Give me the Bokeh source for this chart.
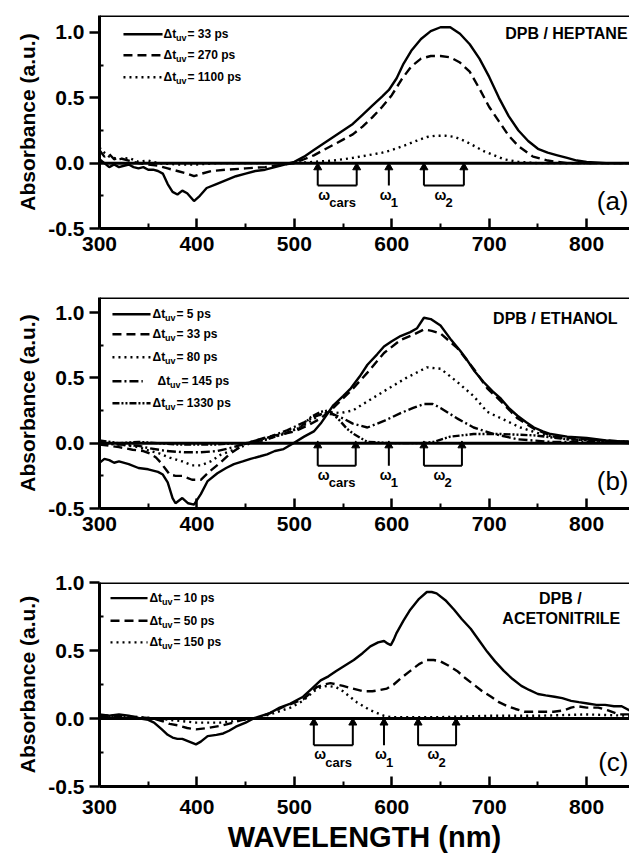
from bokeh.plotting import figure
from bokeh.layouts import column
from bokeh.models import FixedTicker, PrintfTickFormatter, Span, Range1d
from bokeh.core.properties import value
from bokeh.embed import file_html
from bokeh.resources import INLINE

FONT = "Liberation Sans"

# ---------------- data ----------------
# Panel (a) DPB / HEPTANE
a_solid_x = [300, 305, 310, 315, 320, 325, 330, 335, 340, 345, 350, 355, 360, 365, 370, 375, 380, 385, 390, 397, 403, 410, 420, 430, 440, 450, 460, 470, 480, 490, 500, 510, 520, 530, 540, 550, 560, 570, 580, 590, 597, 605, 612, 620, 630, 640, 650, 655, 660, 670, 680, 690, 700, 710, 720, 730, 740, 750, 760, 770, 780, 790, 800, 820, 844]
a_solid_y = [0.03, 0.0, -0.03, -0.01, -0.03, -0.02, -0.01, -0.03, -0.04, -0.03, -0.05, -0.05, -0.06, -0.08, -0.16, -0.22, -0.24, -0.21, -0.23, -0.29, -0.25, -0.19, -0.16, -0.13, -0.10, -0.08, -0.06, -0.05, -0.03, -0.01, 0.01, 0.05, 0.10, 0.15, 0.20, 0.25, 0.30, 0.37, 0.44, 0.51, 0.56, 0.65, 0.76, 0.86, 0.95, 1.01, 1.04, 1.04, 1.04, 0.99, 0.91, 0.80, 0.66, 0.50, 0.36, 0.25, 0.17, 0.11, 0.08, 0.06, 0.04, 0.02, 0.01, 0.0, 0.0]
a_dash_x = [300, 305, 310, 315, 320, 330, 340, 350, 360, 370, 380, 390, 397, 405, 415, 430, 450, 470, 490, 500, 510, 520, 530, 540, 550, 560, 570, 580, 590, 600, 610, 620, 630, 640, 650, 660, 670, 680, 690, 700, 710, 720, 730, 745, 760, 780, 800, 844]
a_dash_y = [0.10, 0.05, 0.07, 0.03, 0.04, 0.02, 0.0, -0.01, -0.02, -0.04, -0.06, -0.08, -0.10, -0.08, -0.06, -0.05, -0.04, -0.03, -0.01, 0.0, 0.03, 0.06, 0.10, 0.14, 0.18, 0.22, 0.28, 0.35, 0.43, 0.52, 0.64, 0.74, 0.80, 0.82, 0.82, 0.81, 0.77, 0.70, 0.57, 0.43, 0.32, 0.21, 0.13, 0.05, 0.02, 0.0, 0.0, 0.0]
a_dot_x = [300, 305, 310, 320, 330, 340, 350, 360, 380, 400, 420, 450, 480, 500, 520, 540, 560, 575, 590, 600, 615, 625, 636, 645, 655, 665, 675, 685, 695, 705, 715, 730, 750, 800, 844]
a_dot_y = [0.12, 0.08, 0.05, 0.03, 0.04, 0.01, 0.02, 0.0, -0.01, -0.01, 0.0, 0.0, 0.0, 0.0, 0.01, 0.02, 0.04, 0.06, 0.08, 0.10, 0.14, 0.17, 0.20, 0.21, 0.21, 0.20, 0.17, 0.13, 0.09, 0.06, 0.03, 0.01, 0.0, 0.0, 0.0]
a_labels = [" = 33 ps", " = 270 ps", " = 1100 ps"]

# Panel (b) DPB / ETHANOL
b_solid_x = [300, 305, 310, 315, 320, 330, 340, 350, 360, 365, 370, 375, 378, 385, 391, 397, 404, 411, 421, 430, 438, 447, 455, 465, 472, 480, 489, 499, 510, 520, 527, 540, 550, 558, 567, 575, 585, 592, 600, 609, 619, 626, 633, 640, 650, 660, 670, 677, 685, 694, 703, 712, 720, 729, 738, 746, 755, 763, 780, 800, 820, 844]
b_solid_y = [-0.15, -0.12, -0.13, -0.15, -0.14, -0.16, -0.19, -0.20, -0.22, -0.24, -0.30, -0.42, -0.46, -0.42, -0.46, -0.47, -0.39, -0.29, -0.23, -0.19, -0.16, -0.14, -0.12, -0.10, -0.085, -0.06, -0.045, 0.0, 0.05, 0.09, 0.15, 0.29, 0.36, 0.42, 0.51, 0.60, 0.68, 0.74, 0.78, 0.82, 0.85, 0.88, 0.96, 0.95, 0.90, 0.80, 0.71, 0.64, 0.55, 0.47, 0.40, 0.34, 0.27, 0.21, 0.16, 0.12, 0.09, 0.07, 0.05, 0.04, 0.02, 0.01]
b_dash_x = [300, 310, 320, 334, 345, 352, 358, 363, 368, 372, 378, 385, 395, 404, 414, 424, 434, 448, 460, 469, 480, 489, 500, 506, 515, 527, 540, 558, 575, 592, 609, 622, 633, 641, 650, 667, 684, 698, 712, 729, 746, 766, 797, 844]
b_dash_y = [-0.01, -0.02, -0.03, -0.05, -0.06, -0.08, -0.11, -0.15, -0.20, -0.24, -0.25, -0.25, -0.28, -0.28, -0.21, -0.15, -0.08, -0.01, 0.02, 0.04, 0.06, 0.07, 0.09, 0.11, 0.14, 0.19, 0.27, 0.40, 0.54, 0.69, 0.79, 0.83, 0.87, 0.86, 0.84, 0.73, 0.57, 0.42, 0.32, 0.19, 0.11, 0.05, 0.03, 0.01]
b_dot_x = [300, 320, 340, 352, 362, 372, 385, 395, 404, 414, 424, 438, 455, 472, 490, 506, 517, 527, 537, 547, 560, 575, 597, 615, 636, 650, 667, 684, 698, 715, 732, 753, 780, 844]
b_dot_y = [0.0, -0.01, -0.03, -0.06, -0.08, -0.11, -0.14, -0.17, -0.17, -0.14, -0.09, -0.05, 0.0, 0.03, 0.08, 0.12, 0.17, 0.22, 0.24, 0.23, 0.25, 0.32, 0.42, 0.50, 0.58, 0.57, 0.47, 0.36, 0.24, 0.18, 0.12, 0.07, 0.03, 0.01]
b_dd_x = [300, 320, 340, 352, 369, 387, 404, 421, 438, 455, 472, 493, 510, 520, 530, 540, 550, 560, 575, 592, 609, 622, 633, 642, 650, 667, 684, 705, 729, 763, 800, 844]
b_dd_y = [0.0, -0.01, -0.02, -0.04, -0.06, -0.07, -0.07, -0.06, -0.03, 0.01, 0.04, 0.10, 0.16, 0.20, 0.23, 0.22, 0.19, 0.15, 0.12, 0.17, 0.23, 0.27, 0.30, 0.30, 0.27, 0.19, 0.12, 0.07, 0.03, 0.01, 0.01, 0.0]
b_ddd_x = [300, 320, 340, 360, 380, 400, 420, 440, 455, 472, 489, 506, 517, 527, 535, 540, 547, 554, 561, 568, 575, 600, 630, 643, 660, 684, 712, 746, 780, 844]
b_ddd_y = [0.02, 0.0, 0.01, 0.0, -0.01, -0.01, -0.01, 0.0, 0.0, 0.03, 0.07, 0.12, 0.20, 0.24, 0.25, 0.22, 0.17, 0.11, 0.07, 0.04, 0.01, 0.0, 0.0, 0.01, 0.05, 0.07, 0.07, 0.06, 0.03, 0.01]
b_labels = [" = 5 ps", " = 33 ps", " = 80 ps", " = 145 ps", " = 1330 ps"]

# Panel (c) DPB / ACETONITRILE
c_solid_x = [300, 310, 320, 330, 342, 350, 356, 364, 370, 375, 380, 385, 392, 399, 404, 411, 420, 427, 433, 440, 450, 458, 466, 475, 485, 496, 509, 518, 527, 535, 543, 552, 561, 570, 578, 586, 592, 596, 599, 602, 605, 612, 619, 628, 636, 641, 646, 655, 664, 672, 681, 690, 698, 706, 715, 724, 733, 741, 750, 758, 767, 775, 784, 792, 801, 810, 819, 828, 836, 844]
c_solid_y = [0.03, 0.02, 0.03, 0.02, 0.0, -0.01, -0.03, -0.08, -0.12, -0.14, -0.15, -0.15, -0.17, -0.19, -0.17, -0.13, -0.12, -0.11, -0.09, -0.06, -0.03, 0.0, 0.02, 0.04, 0.08, 0.11, 0.16, 0.22, 0.28, 0.31, 0.35, 0.39, 0.43, 0.48, 0.53, 0.56, 0.57, 0.55, 0.54, 0.58, 0.63, 0.72, 0.80, 0.88, 0.93, 0.93, 0.92, 0.87, 0.80, 0.73, 0.66, 0.57, 0.49, 0.42, 0.35, 0.29, 0.24, 0.21, 0.18, 0.17, 0.16, 0.15, 0.13, 0.12, 0.11, 0.10, 0.10, 0.09, 0.09, 0.06]
c_dash_x = [300, 320, 340, 355, 365, 372, 380, 390, 399, 411, 427, 447, 461, 475, 490, 509, 523, 530, 537, 550, 560, 571, 580, 588, 595, 602, 610, 619, 628, 636, 643, 650, 658, 667, 675, 684, 693, 702, 710, 719, 727, 736, 746, 756, 766, 777, 784, 791, 800, 812, 822, 833, 844]
c_dash_y = [0.02, 0.02, 0.01, 0.0, -0.02, -0.04, -0.05, -0.07, -0.08, -0.07, -0.05, -0.01, 0.0, 0.04, 0.09, 0.14, 0.23, 0.25, 0.26, 0.24, 0.22, 0.20, 0.20, 0.21, 0.22, 0.25, 0.30, 0.35, 0.40, 0.43, 0.43, 0.42, 0.39, 0.35, 0.30, 0.25, 0.20, 0.16, 0.12, 0.09, 0.07, 0.05, 0.05, 0.05, 0.05, 0.06, 0.08, 0.09, 0.08, 0.08, 0.06, 0.03, 0.03]
c_dot_x = [300, 320, 340, 360, 372, 385, 399, 412, 424, 437, 447, 461, 475, 496, 509, 520, 527, 534, 543, 550, 557, 564, 571, 578, 585, 592, 599, 620, 650, 700, 750, 800, 844]
c_dot_y = [0.02, 0.02, 0.01, 0.0, -0.01, -0.02, -0.03, -0.03, -0.03, -0.02, -0.01, 0.0, 0.03, 0.08, 0.13, 0.20, 0.23, 0.24, 0.23, 0.20, 0.16, 0.12, 0.09, 0.06, 0.04, 0.02, 0.01, 0.01, 0.01, 0.02, 0.02, 0.03, 0.02]
c_labels = [" = 10 ps", " = 50 ps", " = 150 ps"]

x_ticks = [300, 400, 500, 600, 700, 800]
x_minor = [350, 450, 550, 650, 750, 850]
y_ticks = [-0.5, 0.0, 0.5, 1.0]
y_minor = [-0.25, 0.25, 0.75]

# frequency markers (nm): omega_cars pair, omega_1, omega_2 pair
a_marks = [524, 564, 597, 633, 674]
b_marks = [524, 563, 597, 633, 672]
c_marks = [520, 560, 592, 627, 666]

DASH = {"solid": "solid", "dash": "9 5", "dot": "2 4", "dd": "9 3 2 3", "ddd": "7 2 2 2 2 2"}


def make_panel(height, top_border, bottom_border, y_end, curves, styles, labels,
               leg_ys, leg_x0, leg_x1, leg_tx, title_items, tag, tag_y, marks,
               tip_y, base_y, xlabel=None, x_standoff=8):
    p = figure(width=629, height=height, output_backend="svg", toolbar_location=None,
               x_range=Range1d(300, 844), y_range=Range1d(-0.5, y_end),
               min_border_left=99, min_border_right=0, min_border_top=top_border,
               min_border_bottom=bottom_border)
    p.background_fill_color = "white"
    p.border_fill_color = "white"
    p.grid.visible = False
    p.outline_line_color = None

    xa = p.xaxis[0]
    xa.ticker = FixedTicker(ticks=x_ticks, minor_ticks=x_minor)
    xa.axis_line_width = 3
    xa.major_tick_in = 10
    xa.major_tick_out = 0
    xa.minor_tick_in = 5
    xa.minor_tick_out = 0
    xa.major_tick_line_width = 2.5
    xa.minor_tick_line_width = 2
    xa.major_label_text_font = FONT
    xa.major_label_text_font_style = "bold"
    xa.major_label_text_font_size = "21px"
    xa.major_label_text_color = "black"
    xa.major_label_standoff = x_standoff
    if xlabel:
        xa.axis_label = xlabel
        xa.axis_label_text_font = FONT
        xa.axis_label_text_font_style = "bold"
        xa.axis_label_text_font_size = "29px"
        xa.axis_label_text_color = "black"
        xa.axis_label_standoff = 4

    ya = p.yaxis[0]
    ya.ticker = FixedTicker(ticks=y_ticks, minor_ticks=y_minor)
    ya.formatter = PrintfTickFormatter(format="%.1f")
    ya.axis_line_width = 3
    ya.major_tick_in = 0
    ya.major_tick_out = 10
    ya.minor_tick_in = 4
    ya.minor_tick_out = 0
    ya.major_tick_line_width = 2.5
    ya.minor_tick_line_width = 2
    ya.major_label_text_font = FONT
    ya.major_label_text_font_style = "bold"
    ya.major_label_text_font_size = "21px"
    ya.major_label_text_color = "black"
    ya.major_label_standoff = 5
    ya.axis_label = "Absorbance (a.u.)"
    ya.axis_label_text_font = FONT
    ya.axis_label_text_font_style = "bold"
    ya.axis_label_text_font_size = "21px"
    ya.axis_label_text_color = "black"
    ya.axis_label_standoff = 6

    # top frame line and zero line
    p.add_layout(Span(location=y_end, dimension="width", line_color="black", line_width=3))
    p.add_layout(Span(location=0, dimension="width", line_color="black", line_width=3))

    for (cx, cy), st in zip(curves, styles):
        p.line(cx, cy, line_color="black", line_width=2.4, line_dash=DASH[st])

    # legend
    for i, (ly, st, lab) in enumerate(zip(leg_ys, styles, labels)):
        x1 = leg_x1 - 8 if st == "dd" else leg_x1
        tx_off = 5 if st == "dd" else 0
        p.line([leg_x0, x1], [ly, ly], line_color="black", line_width=2.4, line_dash=DASH[st])
        p.text([leg_tx], [ly], text=["\u0394t"], x_offset=tx_off, text_font=value(FONT),
               text_font_style="bold", text_font_size="12px", text_baseline="middle",
               text_align="left", text_color="black")
        p.text([leg_tx], [ly], text=["uv"], x_offset=12.5 + tx_off, y_offset=4, text_font=value(FONT),
               text_font_style="bold", text_font_size="9px", text_baseline="middle",
               text_align="left", text_color="black")
        p.text([leg_tx], [ly], text=[lab], x_offset=24 + tx_off, text_font=value(FONT),
               text_font_style="bold", text_font_size="12px", text_baseline="middle",
               text_align="left", text_color="black")

    # solvent title
    for tx, ty, tt, al in title_items:
        p.text([tx], [ty], text=[tt], text_font=value(FONT), text_font_style="bold",
               text_font_size="16px", text_baseline="middle", text_align=al, text_color="black")

    # panel tag
    p.text([843], [tag_y], text=[tag], text_font=value(FONT), text_font_style="normal",
           text_font_size="26px", text_baseline="middle", text_align="right", text_color="black")

    # frequency arrows
    p.segment(x0=marks, y0=[base_y] * 5, x1=marks, y1=[tip_y] * 5, line_color="black", line_width=2)
    p.scatter(marks, [tip_y] * 5, marker="triangle", size=8, fill_color="black", line_color="black")
    p.segment(x0=[marks[0], marks[3]], y0=[base_y] * 2, x1=[marks[1], marks[4]], y1=[base_y] * 2,
              line_color="black", line_width=2)
    centers = [(marks[0] + marks[1]) / 2, marks[2], (marks[3] + marks[4]) / 2]
    subs = ["cars", "1", "2"]
    sub_w = [27, 7, 8]
    for cx, s, w in zip(centers, subs, sub_w):
        total = 11 + w
        p.text([cx], [base_y], text=["\u03c9"], x_offset=-total / 2, y_offset=9, text_font=value(FONT),
               text_font_style="bold", text_font_size="14px", text_baseline="middle",
               text_align="left", text_color="black")
        p.text([cx], [base_y], text=[s], x_offset=-total / 2 + 11, y_offset=17, text_font=value(FONT),
               text_font_style="bold", text_font_size="13px", text_baseline="middle",
               text_align="left", text_color="black")
    return p


pa = make_panel(288, 15, 60, 1.13,
                [(a_solid_x, a_solid_y), (a_dash_x, a_dash_y), (a_dot_x, a_dot_y)],
                ["solid", "dash", "dot"], a_labels,
                [0.987, 0.826, 0.658], 324.6, 364.7, 365.7,
                [(842, 0.995, "DPB / HEPTANE", "right")], "(a)", -0.29,
                a_marks, -0.033, -0.171)
pb = make_panel(280, 9, 60, 1.115,
                [(b_solid_x, b_solid_y), (b_dash_x, b_dash_y), (b_dot_x, b_dot_y),
                 (b_dd_x, b_dd_y), (b_ddd_x, b_ddd_y)],
                ["solid", "dash", "dot", "dd", "ddd"], b_labels,
                [0.987, 0.834, 0.658, 0.474, 0.306], 313.3, 352.4, 354.4,
                [(831.7, 0.956, "DPB / ETHANOL", "right")], "(b)", -0.29,
                b_marks, -0.018, -0.172)
pc = make_panel(294, 14, 76, 1.0,
                [(c_solid_x, c_solid_y), (c_dash_x, c_dash_y), (c_dot_x, c_dot_y)],
                ["solid", "dash", "dot"], c_labels,
                [0.885, 0.719, 0.560], 311.3, 349.3, 351.3,
                [(773, 0.885, "DPB /", "center"), (774, 0.733, "ACETONITRILE", "center")],
                "(c)", -0.32, c_marks, -0.031, -0.197, xlabel="WAVELENGTH (nm)", x_standoff=13)

layout = column(pa, pb, pc, spacing=0)
open("out.html", "w").write(file_html(layout, INLINE))
